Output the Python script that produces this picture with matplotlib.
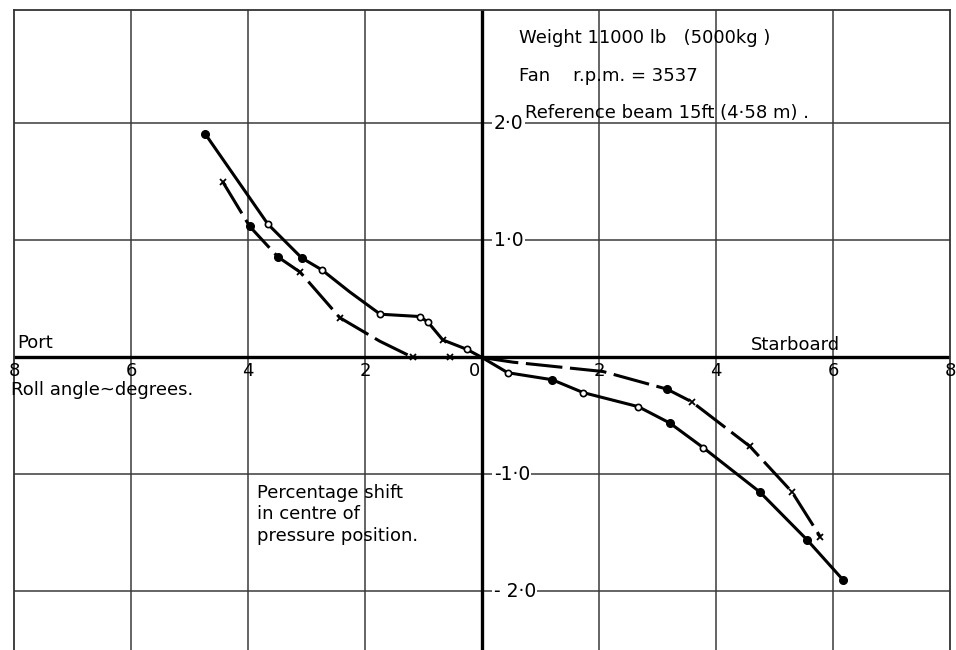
import matplotlib
matplotlib.use("Agg")
import matplotlib.pyplot as plt
import numpy as np

# ---- data (x: roll angle, port negative; y: % shift) ----
port_up_x = [-4.73, -3.66, -3.08, -2.74, -2.26, -1.74, -1.06, -0.92, -0.67, -0.26, 0.0]
port_up_y = [1.91, 1.14, 0.85, 0.75, 0.56, 0.37, 0.35, 0.30, 0.15, 0.07, 0.0]
port_up_m = ["fo", "oo", "fo", "oo", None, "oo", "oo", "oo", "x", "oo", None]

port_lo_x = [-4.43, -3.97, -3.49, -3.11, -2.43, -1.75, -1.18, -0.55, 0.0]
port_lo_y = [1.50, 1.12, 0.86, 0.73, 0.34, 0.14, 0.0, 0.0, 0.0]
port_lo_m = ["x", "fo", "fo", "x", "x", None, "x", "x", None]

stbd_up_x = [0.0, 0.53, 2.07, 3.16, 3.59, 4.58, 5.30, 5.78]
stbd_up_y = [0.0, -0.04, -0.12, -0.27, -0.38, -0.76, -1.15, -1.53]
stbd_up_m = [None, None, None, "fo", "x", "x", "x", "x"]

stbd_lo_x = [0.0, 0.44, 1.20, 1.73, 2.67, 3.21, 3.78, 4.75, 5.56, 6.17]
stbd_lo_y = [0.0, -0.13, -0.19, -0.30, -0.42, -0.56, -0.77, -1.15, -1.56, -1.90]
stbd_lo_m = [None, "oo", "fo", "oo", "oo", "fo", "oo", "fo", "fo", "fo"]

x_ticks = [-8, -6, -4, -2, 0, 2, 4, 6, 8]
x_tick_labels = ["8", "6", "4", "2", "0", "2", "4", "6", "8"]
y_ticks = [2, 1, -1, -2]
y_tick_labels = ["2·0", "1·0", "-1·0", "- 2·0"]

plt.rcParams["font.family"] = "DejaVu Sans"
fig = plt.figure(figsize=(9.56, 6.5), dpi=100)
ax = fig.add_axes([14/956, 0, 936/956, 640/650])
ax.set_xlim(-8, 8)
ax.set_ylim(-2.5, 2.97)
ax.set_xticks([]); ax.set_yticks([])
for s in ["left", "right", "top"]:
    ax.spines[s].set_linewidth(1.3); ax.spines[s].set_color("#333333")
ax.spines["bottom"].set_visible(False)

GRID = "#3a3a3a"
for xv in x_ticks[1:-1]:
    if xv != 0:
        ax.axvline(xv, color=GRID, lw=1.1, zorder=1)
for yv in y_ticks:
    ax.axhline(yv, color=GRID, lw=1.1, zorder=1)
ax.axhline(0, color="black", lw=2.4, zorder=2)
ax.axvline(0, color="black", lw=2.4, zorder=2)

def curve(xs, ys, ms, ls="-"):
    ax.plot(xs, ys, color="black", lw=2.2, ls=ls, zorder=3, solid_capstyle="round")
    for x, y, m in zip(xs, ys, ms):
        if m == "fo":
            ax.plot(x, y, "o", ms=5.5, color="black", zorder=4)
        elif m == "oo":
            ax.plot(x, y, "o", ms=4.5, mfc="white", mec="black", mew=1.2, zorder=4)
        elif m == "x":
            ax.plot(x, y, "x", ms=4.5, color="black", mew=1.3, zorder=4)

curve(port_up_x, port_up_y, port_up_m)
curve(port_lo_x, port_lo_y, port_lo_m, ls=(0, (12, 2.5)))
curve(stbd_up_x, stbd_up_y, stbd_up_m, ls=(0, (12, 2.5)))
curve(stbd_lo_x, stbd_lo_y, stbd_lo_m)

# tick labels drawn on the chart like the original
for xv, lab in zip(x_ticks, x_tick_labels):
    dx = -0.12 if xv == 0 else 0
    ax.text(xv + dx, -0.04, lab, ha="center", va="top", fontsize=13, zorder=5)
for yv, lab in zip(y_ticks, y_tick_labels):
    ax.text(0.2, yv, lab, ha="left", va="center", fontsize=13.5, zorder=5,
            bbox=dict(fc="white", ec="none", pad=1))

ax.text(-7.95, 0.05, "Port", ha="left", va="bottom", fontsize=13)
ax.text(4.6, 0.03, "Starboard", ha="left", va="bottom", fontsize=13)
ax.text(-8.05, -0.2, "Roll angle~degrees.", ha="left", va="top", fontsize=13)
ax.text(-3.85, -1.08, "Percentage shift\nin centre of\npressure position.",
        ha="left", va="top", fontsize=13, linespacing=1.25)
ax.text(0.63, 2.73, "Weight 11000 lb   (5000kg )", ha="left", va="center", fontsize=13)
ax.text(0.63, 2.41, "Fan    r.p.m. = 3537", ha="left", va="center", fontsize=13)
ax.text(0.73, 2.09, "Reference beam 15ft (4·58 m) .", ha="left", va="center", fontsize=13)

fig.savefig("out.png", dpi=100, facecolor="white")
